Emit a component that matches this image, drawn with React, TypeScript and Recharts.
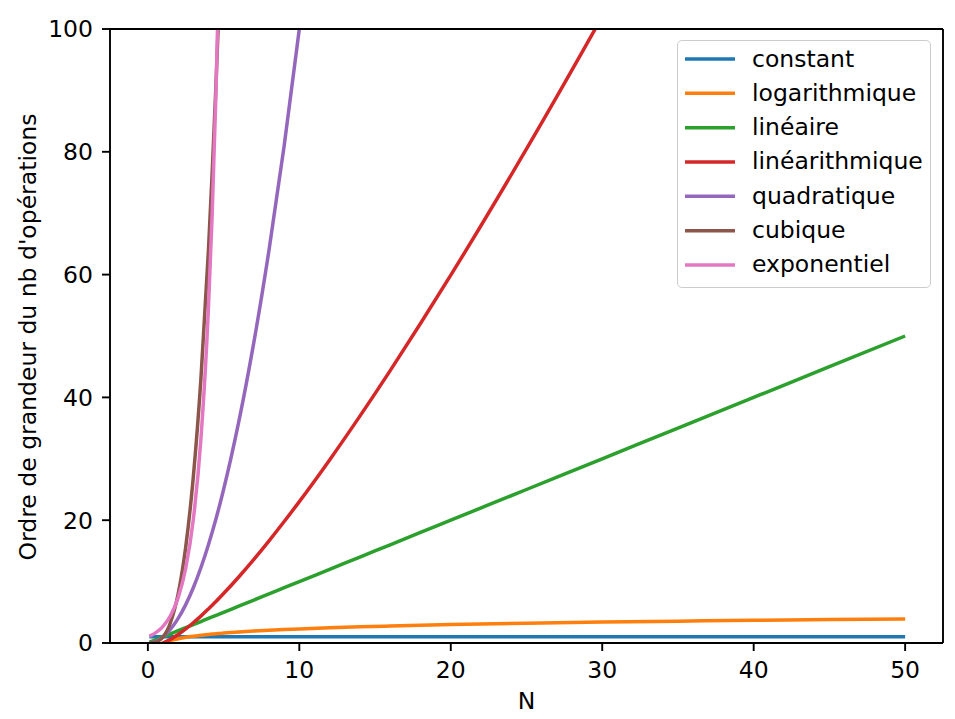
import React from 'react';
import { LineChart, Line, XAxis, YAxis, Legend, ReferenceLine, Label } from 'recharts';

// Sample sizes N
const N = [0.1, 0.25, 0.5, 0.75, 1, 1.5, 2, 2.5, 3, 3.5, 4, 4.25, 4.5, 4.75, 5, 6, 7, 8, 9, 10, 12, 14, 16, 18, 20, 25, 30, 35, 40, 45, 50];

const constant = [1, 1, 1, 1, 1, 1, 1, 1, 1, 1, 1, 1, 1, 1, 1, 1, 1, 1, 1, 1, 1, 1, 1, 1, 1, 1, 1, 1, 1, 1, 1];
const logarithmique = [-2.3, -1.39, -0.69, -0.29, 0, 0.41, 0.69, 0.92, 1.1, 1.25, 1.39, 1.45, 1.5, 1.56, 1.61, 1.79, 1.95, 2.08, 2.2, 2.3, 2.48, 2.64, 2.77, 2.89, 3.0, 3.22, 3.4, 3.56, 3.69, 3.81, 3.91];
const lineaire = [0.1, 0.25, 0.5, 0.75, 1, 1.5, 2, 2.5, 3, 3.5, 4, 4.25, 4.5, 4.75, 5, 6, 7, 8, 9, 10, 12, 14, 16, 18, 20, 25, 30, 35, 40, 45, 50];
const linearithmique = [-0.23, -0.35, -0.35, -0.22, 0, 0.61, 1.39, 2.29, 3.3, 4.38, 5.55, 6.15, 6.77, 7.4, 8.05, 10.75, 13.62, 16.64, 19.78, 23.03, 29.82, 36.95, 44.36, 52.03, 59.91, 80.47, 102.04, 124.44, 147.56, 171.3, 195.6];
const quadratique = [0.01, 0.06, 0.25, 0.56, 1, 2.25, 4, 6.25, 9, 12.25, 16, 18.06, 20.25, 22.56, 25, 36, 49, 64, 81, 100, 144, 196, 256, 324, 400, 625, 900, 1225, 1600, 2025, 2500];
const cubique = [0.001, 0.016, 0.125, 0.42, 1, 3.38, 8, 15.63, 27, 42.88, 64, 76.77, 91.13, 107.17, 125, 216, 343, 512, 729, 1000, 1728, 2744, 4096, 5832, 8000, 15625, 27000, 42875, 64000, 91125, 125000];
// values far above the visible range are left out (off-scale)
const exponentiel = [1.11, 1.28, 1.65, 2.12, 2.72, 4.48, 7.39, 12.18, 20.09, 33.12, 54.6, 70.11, 90.02, 115.58, 148.41, 403.43, 1096.6, 2981.0, 8103.1, 22026.5, null, null, null, null, null, null, null, null, null, null, null];

const xTicks = [0, 10, 20, 30, 40, 50];
const yTicks = [0, 20, 40, 60, 80, 100];

const seriesNames = ['constant', 'logarithmique', 'linéaire', 'linéarithmique', 'quadratique', 'cubique', 'exponentiel'];
const seriesKeys = ['constant', 'logarithmique', 'lineaire', 'linearithmique', 'quadratique', 'cubique', 'exponentiel'];
const seriesColors = ['#1f77b4', '#ff7f0e', '#2ca02c', '#d62728', '#9467bd', '#8c564b', '#e377c2'];
const seriesValues = [constant, logarithmique, lineaire, linearithmique, quadratique, cubique, exponentiel];

const data = N.map((n, i) => {
  const row: Record<string, number | null> = { N: n };
  seriesKeys.forEach((k, j) => {
    row[k] = seriesValues[j][i];
  });
  return row;
});

const FONT = 'DejaVu Sans';
const FS = 23.5;

const renderLegend = () => (
  <div
    style={{
      width: 254,
      height: 248,
      boxSizing: 'border-box',
      border: '1.5px solid #cccccc',
      borderRadius: 5,
      background: 'rgba(255,255,255,0.8)',
      position: 'relative',
    }}
  >
    <svg width={254} height={248} style={{ position: 'absolute', left: -1.5, top: -1.5, overflow: 'visible' }}>
      {seriesNames.map((name, i) => {
        const cy = 19 + i * 34.33;
        return (
          <g key={name}>
            <line x1={8} x2={58} y1={cy} y2={cy} stroke={seriesColors[i]} strokeWidth={3.5} />
            <text x={75} y={cy + 7.5} fontFamily={FONT} fontSize={FS} fill="#000">
              {name}
            </text>
          </g>
        );
      })}
    </svg>
  </div>
);

const YLabel = (props: any) => {
  const vb = props.viewBox || {};
  const cx = (vb.x ?? 0) + 36;
  const cy = (vb.y ?? 0) + (vb.height ?? 0) / 2 + 1;
  return (
    <text
      transform={`translate(${cx},${cy}) rotate(-90)`}
      x={0}
      y={0}
      textAnchor="middle"
      fontFamily={FONT}
      fontSize={FS}
      fill="#000"
    >
      Ordre de grandeur du nb d'opérations
    </text>
  );
};

const XLabel = (props: any) => {
  const vb = props.viewBox || {};
  const cx = (vb.x ?? 0) + (vb.width ?? 0) / 2;
  const y = (vb.y ?? 0) + 66;
  return (
    <text x={cx} y={y} textAnchor="middle" fontFamily={FONT} fontSize={FS} fill="#000">
      N
    </text>
  );
};

export default function App() {
  return (
    <div style={{ position: 'absolute', left: 0, top: 0, width: 955, height: 719, background: '#fff' }}>
      <LineChart width={955} height={719} data={data} margin={{ top: 29, right: 12, bottom: 0, left: 0 }}>
        <XAxis
          dataKey="N"
          type="number"
          domain={[-2.5, 52.5]}
          allowDataOverflow
          ticks={xTicks}
          height={76}
          stroke="#000"
          axisLine={{ stroke: '#000', strokeWidth: 1.9 }}
          tickLine={{ stroke: '#000', strokeWidth: 1.9 }}
          tickSize={8}
          tickMargin={10}
          tick={{ fill: '#000', fontSize: FS, fontFamily: FONT }}
        >
          <Label content={XLabel} />
        </XAxis>
        <YAxis
          type="number"
          domain={[0, 100]}
          allowDataOverflow
          ticks={yTicks}
          width={110}
          stroke="#000"
          axisLine={{ stroke: '#000', strokeWidth: 1.9 }}
          tickLine={{ stroke: '#000', strokeWidth: 1.9 }}
          tickSize={8}
          tickMargin={9}
          tick={{ fill: '#000', fontSize: FS, fontFamily: FONT }}
        >
          <Label content={YLabel} />
        </YAxis>
        {seriesKeys.map((k, i) => (
          <Line
            key={k}
            dataKey={k}
            name={seriesNames[i]}
            type="monotone"
            stroke={seriesColors[i]}
            strokeWidth={3.5}
            dot={false}
            activeDot={false}
            isAnimationActive={false}
            connectNulls={false}
          />
        ))}
        <ReferenceLine y={100} stroke="#000" strokeWidth={1.9} />
        <ReferenceLine x={52.5} stroke="#000" strokeWidth={1.9} />
        <Legend
          content={renderLegend}
          layout="horizontal"
          verticalAlign="middle"
          align="center"
          wrapperStyle={{ left: 677, top: 40, width: 254, height: 248 }}
        />
      </LineChart>
    </div>
  );
}
